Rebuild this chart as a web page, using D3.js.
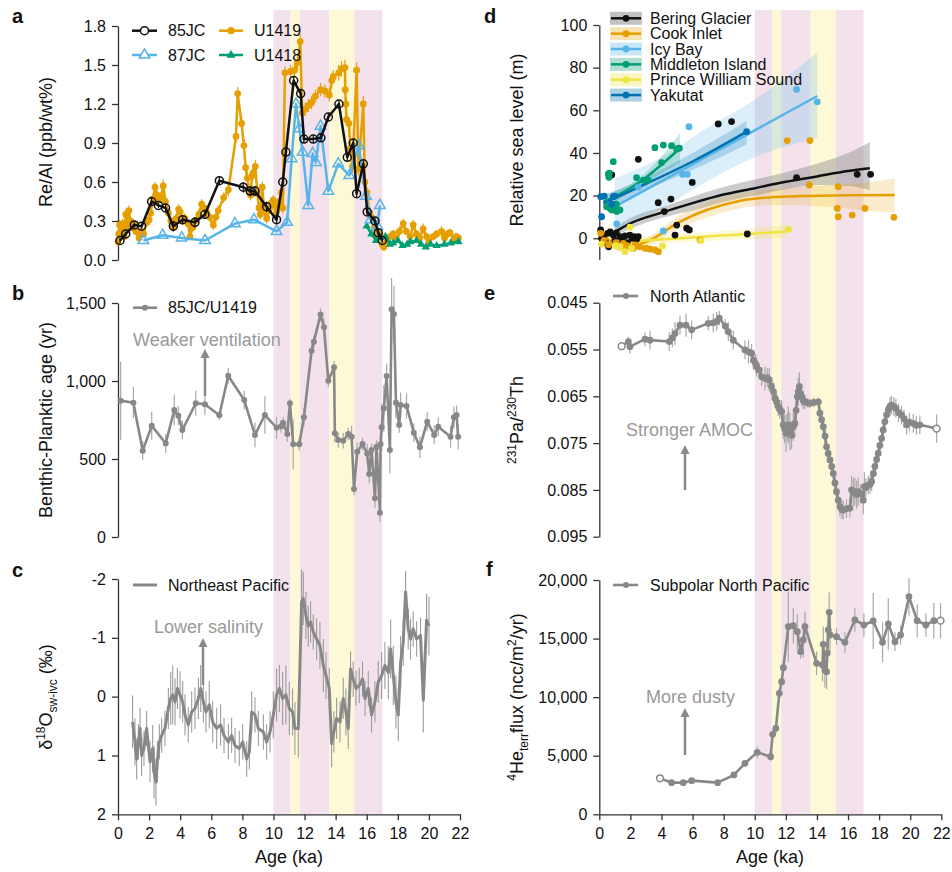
<!DOCTYPE html>
<html><head><meta charset="utf-8">
<script src="https://cdn.jsdelivr.net/npm/d3@7"></script>
<style>body{margin:0;background:#fff}text{font-family:"Liberation Sans",Arial,Helvetica,sans-serif}</style>
</head><body><script>
// ---------------- DATA ----------------
const bandEdges=[[10,11.1,"p"],[11.1,11.7,"y"],[11.7,13.6,"p"],[13.6,15.2,"y"],[15.2,17,"p"]];
const xTicks=[0,2,4,6,8,10,12,14,16,18,20,22];
const ticksA=[0,0.3,0.6,0.9,1.2,1.5,1.8];
const ticksB=[0,500,1000,1500];
const ticksC=[-2,-1,0,1,2];
const ticksD=[0,20,40,60,80,100];
const ticksE=[0.045,0.055,0.065,0.075,0.085,0.095];
const ticksF=[0,5000,10000,15000,20000];

// panel a: [age, Re/Al, err]
const jc85=[[0.13,0.15,0.02],[0.5,0.2,0.02],[1.05,0.27,0.02],[1.52,0.26,0.02],[2.16,0.45,0.03],[2.6,0.42,0.02],[3.06,0.40,0.03],[3.56,0.26,0.04],[4.16,0.31,0.03],[4.95,0.29,0.04],[5.59,0.35,0.03],[6.52,0.61,0.03],[8.06,0.56,0.04],[8.5,0.53,0.04],[8.81,0.53,0.04],[9.56,0.41,0.04],[10.2,0.31,0.03],[10.6,0.60,0.03],[10.8,0.83,0.03],[11.3,1.38,0.03],[11.75,1.28,0.03],[11.96,0.93,0.03],[12.56,0.93,0.03],[13.05,0.94,0.03],[13.53,1.10,0.03],[14.21,1.20,0.03],[14.75,0.79,0.03],[15.13,0.90,0.03],[15.35,0.51,0.03],[15.78,0.74,0.03],[16.03,0.37,0.03],[16.53,0.30,0.03],[16.74,0.21,0.03],[17.0,0.15,0.02]];
const jc87=[[1.63,0.15],[2.87,0.19],[4.1,0.17],[5.6,0.15],[7.52,0.28],[8.75,0.31],[10.2,0.22],[10.88,0.29],[11.17,0.78],[11.45,1.20],[11.66,1.01],[11.88,0.83],[12.24,0.42],[12.52,0.82],[12.73,0.75],[13.03,1.03],[13.53,0.53],[14.17,0.74],[14.88,0.65],[15.48,0.88],[15.95,0.49],[16.25,0.31],[16.68,0.26],[16.85,0.42]];
const u1419=[[0.0,0.14,0.03],[0.05,0.2,0.03],[0.1,0.27,0.04],[0.2,0.22,0.03],[0.3,0.28,0.04],[0.4,0.18,0.03],[0.5,0.35,0.04],[0.6,0.25,0.03],[0.7,0.38,0.04],[0.8,0.3,0.03],[0.9,0.25,0.03],[1.0,0.28,0.03],[1.15,0.22,0.03],[1.35,0.17,0.03],[1.5,0.22,0.03],[1.65,0.2,0.03],[1.85,0.29,0.03],[2.0,0.31,0.04],[2.1,0.36,0.04],[2.25,0.47,0.04],[2.38,0.56,0.04],[2.5,0.5,0.04],[2.6,0.46,0.04],[2.75,0.48,0.04],[2.91,0.57,0.05],[3.05,0.45,0.04],[3.24,0.36,0.04],[3.4,0.3,0.03],[3.56,0.25,0.03],[3.75,0.32,0.04],[3.9,0.39,0.04],[4.0,0.37,0.04],[4.15,0.3,0.03],[4.3,0.32,0.04],[4.5,0.28,0.03],[4.63,0.18,0.03],[4.8,0.25,0.03],[4.95,0.3,0.03],[5.2,0.35,0.04],[5.38,0.43,0.04],[5.55,0.4,0.04],[5.7,0.37,0.04],[5.9,0.33,0.04],[6.13,0.27,0.04],[6.3,0.33,0.04],[6.45,0.38,0.04],[6.8,0.48,0.04],[7.1,0.54,0.05],[7.59,0.95,0.05],[7.7,1.28,0.05],[7.95,1.05,0.05],[8.1,0.88,0.05],[8.21,0.71,0.05],[8.32,0.63,0.05],[8.45,0.52,0.04],[8.53,0.5,0.04],[8.62,0.65,0.05],[8.7,0.67,0.05],[8.83,0.72,0.05],[8.96,0.52,0.04],[9.07,0.4,0.04],[9.15,0.35,0.04],[9.28,0.56,0.04],[9.4,0.38,0.04],[9.56,0.32,0.04],[9.7,0.38,0.04],[9.77,0.40,0.04],[9.88,0.44,0.04],[9.98,0.46,0.04],[10.09,0.42,0.04],[10.2,0.37,0.04],[10.3,0.41,0.04],[10.4,0.45,0.04],[10.51,0.52,0.04],[10.6,0.4,0.04],[10.74,1.44,0.05],[11.1,1.45,0.05],[11.35,1.46,0.05],[11.55,1.52,0.06],[11.72,1.68,0.06],[11.85,1.13,0.05],[12.05,1.16,0.05],[12.25,1.19,0.05],[12.45,1.21,0.05],[12.7,1.26,0.05],[13.03,1.31,0.05],[13.3,1.30,0.05],[13.59,1.27,0.05],[13.75,1.38,0.06],[13.85,1.41,0.05],[14.2,1.44,0.06],[14.38,1.47,0.06],[14.6,1.48,0.06],[14.62,1.31,0.05],[14.66,1.2,0.05],[14.7,1.08,0.05],[14.85,1.05,0.05],[14.95,0.86,0.05],[15.09,0.72,0.05],[15.35,1.46,0.06],[15.46,0.70,0.05],[15.78,1.2,0.06],[15.88,0.60,0.05],[16.0,0.52,0.04],[16.2,0.36,0.04],[16.3,0.33,0.04],[16.5,0.25,0.04],[16.7,0.18,0.03],[16.85,0.2,0.03],[17.0,0.12,0.03],[17.1,0.1,0.03],[17.3,0.15,0.03],[17.5,0.18,0.03],[17.7,0.2,0.03],[17.9,0.16,0.03],[18.1,0.22,0.04],[18.35,0.28,0.04],[18.55,0.22,0.03],[18.8,0.18,0.03],[18.99,0.27,0.04],[19.2,0.2,0.03],[19.4,0.17,0.03],[19.63,0.24,0.04],[19.85,0.18,0.03],[20.0,0.14,0.03],[20.28,0.18,0.03],[20.5,0.2,0.03],[20.81,0.22,0.04],[21.0,0.17,0.03],[21.2,0.2,0.03],[21.35,0.21,0.03],[21.6,0.15,0.03],[21.75,0.18,0.03],[21.9,0.17,0.03]];
const u1418=[[16.0,0.26],[16.3,0.2],[16.6,0.15],[16.9,0.17],[17.2,0.18],[17.5,0.12],[17.7,0.13],[18.0,0.15],[18.3,0.11],[18.6,0.12],[18.8,0.14],[19.2,0.15],[19.5,0.12],[19.8,0.10],[20.1,0.12],[20.5,0.11],[21.0,0.12],[21.4,0.13],[21.9,0.14]];

// panel b: [age, B-P age, err]
const bpAge=[[0.17,874,250],[0.99,861,100],[1.59,553,60],[2.17,713,90],[3.07,600,60],[3.62,814,100],[3.88,778,60],[4.14,686,60],[5.0,857,80],[5.59,851,70],[6.52,780,30],[7.09,1034,50],[8.12,878,60],[8.81,654,80],[9.45,782,120],[10.2,701,70],[10.48,710,40],[10.63,730,40],[10.89,660,50],[11.06,857,30],[11.27,594,160],[11.66,594,40],[11.96,767,60],[12.45,1194,40],[12.6,1252,40],[13.03,1427,40],[13.25,1344,60],[13.53,1002,40],[13.9,1088,40],[13.95,665,60],[14.17,622,50],[14.49,617,50],[14.81,660,40],[15.03,643,70],[15.18,308,40],[15.39,547,60],[15.73,596,40],[16.03,536,60],[16.16,404,60],[16.31,558,40],[16.53,248,60],[16.63,579,40],[16.85,156,60],[16.89,596,120],[16.96,703,150],[17.1,825,150],[17.28,1032,80],[17.49,558,150],[17.6,1460,200],[17.75,1430,180],[17.88,861,100],[18.09,718,50],[18.18,846,80],[18.56,840,80],[19.03,669,60],[19.42,575,70],[19.89,739,60],[20.34,654,60],[20.6,707,60],[21.39,643,70],[21.61,767,70],[21.78,782,60],[21.88,643,80]];

// panel c: [age, d18Osw-ivc, err]
const d18O=[[0.94,0.43,0.45],[1.09,0.77,0.4],[1.20,1.06,0.35],[1.31,0.77,0.3],[1.42,0.54,0.35],[1.52,1.0,0.35],[1.67,0.88,0.3],[1.84,0.54,0.3],[2.06,1.11,0.35],[2.23,0.88,0.4],[2.32,1.28,0.45],[2.44,1.45,0.4],[2.53,1.11,0.35],[2.66,0.77,0.3],[2.81,0.66,0.3],[3.02,0.54,0.3],[3.24,0.2,0.35],[3.39,0.03,0.45],[3.52,-0.03,0.5],[3.67,0.09,0.4],[3.82,-0.14,0.35],[3.99,-0.03,0.4],[4.16,0.09,0.35],[4.31,0.31,0.35],[4.52,0.48,0.3],[4.74,0.26,0.35],[4.95,0.2,0.35],[5.17,0.03,0.35],[5.32,-0.14,0.4],[5.49,0.09,0.35],[5.66,0.26,0.35],[5.87,0.14,0.4],[6.09,0.43,0.35],[6.35,0.54,0.35],[6.6,0.48,0.35],[6.82,0.66,0.3],[7.10,0.77,0.3],[7.31,0.66,0.3],[7.53,0.83,0.3],[7.80,0.88,0.3],[8.02,0.77,0.3],[8.28,1.06,0.3],[8.45,0.94,0.3],[8.60,0.26,0.35],[8.81,0.31,0.3],[9.03,0.54,0.3],[9.35,0.6,0.3],[9.56,0.77,0.3],[9.78,0.6,0.35],[9.99,0.31,0.4],[10.20,-0.03,0.45],[10.38,-0.14,0.4],[10.59,0.03,0.45],[10.80,-0.03,0.5],[11.02,0.2,0.45],[11.23,0.26,0.4],[11.38,0.54,0.45],[11.60,0.54,0.5],[11.81,-1.61,0.55],[11.92,-1.67,0.45],[12.09,-1.38,0.4],[12.24,-1.2,0.35],[12.39,-1.27,0.35],[12.56,-1.1,0.3],[12.78,-0.98,0.35],[12.99,-0.87,0.4],[13.21,-0.53,0.45],[13.38,-0.36,0.4],[13.59,-0.14,0.35],[13.74,0.8,0.4],[13.89,0.6,0.35],[14.06,0.37,0.35],[14.28,0.43,0.35],[14.49,0.03,0.35],[14.66,0.26,0.4],[14.81,0.54,0.35],[14.96,-0.47,0.3],[15.13,-0.3,0.3],[15.31,-0.14,0.3],[15.52,-0.19,0.3],[15.73,-0.3,0.3],[15.89,0.03,0.3],[16.10,-0.14,0.3],[16.31,0.31,0.3],[16.53,0.09,0.35],[16.74,-0.25,0.35],[16.96,-0.36,0.4],[17.17,-0.53,0.4],[17.39,-0.41,0.45],[17.54,-0.81,0.5],[17.71,-0.36,0.5],[17.88,0.09,0.45],[18.03,0.31,0.45],[18.18,-0.58,0.45],[18.35,-0.92,0.4],[18.50,-1.78,0.35],[18.67,-1.15,0.35],[18.82,-0.98,0.35],[18.99,-1.15,0.3],[19.21,-0.98,0.3],[19.46,-1.04,0.3],[19.64,0.06,0.55],[19.85,-1.3,0.45],[20.0,-1.2,0.5]];

// panel d: sites, points [age, RSL] and fits [age, fit, lo, hi]
const siteNames=["Bering Glacier","Cook Inlet","Icy Bay","Middleton Island","Prince William Sound","Yakutat"];
const berPts=[[0.09,3.9],[0.15,0],[0.26,0.8],[0.4,-2],[0.54,2.3],[0.6,-4],[0.7,3],[0.8,29.7],[0.9,1.5],[1.0,-1],[1.1,2.5],[1.33,0.8],[1.5,-1.5],[1.65,1.1],[1.8,-2],[1.97,1.5],[2.1,0],[2.25,0.8],[2.4,-0.5],[2.51,0.8],[2.51,37],[3.79,16.7],[4.18,12.5],[4.61,18.4],[4.87,1.5],[4.98,6.2],[5.62,4.7],[5.79,3.9],[5.98,26.2],[7.65,53.6],[8.51,54.7],[9.52,2.0],[12.69,28.4],[16.59,30],[17.45,30]];
const cookPts=[[0.09,2.3],[0.3,-1],[0.6,-3],[1.07,-2],[1.3,-4],[1.55,-2.4],[1.8,-3.5],[2.19,-4.7],[2.3,-3.1],[2.6,-4],[2.94,-4.7],[3.05,-4.7],[3.3,-5.1],[3.6,-5.5],[3.8,-6.3],[6.48,-0.8],[12.09,45.8],[13.51,25],[13.55,45.8],[15.31,14],[15.37,24.2],[15.37,10.1],[16.27,10.9],[17.09,14],[18.95,9.8]];
const icyPts=[[1.12,6.7],[2.5,24],[4.12,3.4],[5.36,30],[5.66,30],[5.77,52.3],[12.69,69.8],[14.02,64]];
const midPts=[[0.48,14.8],[0.58,30.1],[0.62,28.6],[0.65,30.5],[0.58,14.8],[0.69,14],[0.8,13.3],[0.9,35.9],[1.0,13.3],[1.1,16],[1.12,12.5],[1.33,13.3],[2.4,28.4],[2.83,27.3],[3.15,27.3],[3.58,42.5],[4.01,35.5],[4.12,43.7],[4.65,43.4],[4.98,41.9],[5.15,42.2]];
const pwsPts=[[0.13,-2.7],[1.07,-3.6],[1.33,-3.9],[1.65,-6.3],[1.97,5.2],[2.08,-4.7],[4.07,-3.6],[6.54,-1.1],[12.16,4.2]];
const yakPts=[[0.09,19.5],[0.15,10.1],[0.32,19.8],[0.8,16],[0.9,19.5],[1.0,19.8],[9.48,50]];
const berFit=[[1.0,3,1,5],[2,7,4.5,9.5],[4,12,9.5,14.5],[6,16.5,13,19.5],[8,20.5,17,24],[10,23.5,20,27.5],[12,26.5,23,31],[14,29,25,35],[16,31.5,24.5,40],[17.4,32.8,22.5,45]];
const cookFit=[[0.1,3,0,6],[0.8,-2,-4,0],[1.5,-4.5,-6.5,-2.5],[2.5,-3,-5,-1],[3.5,0,-2,2],[5,7,4,10],[7,13.5,10,17],[9,17.5,14,21],[11,19.2,15.5,23],[13,19.8,15.5,24],[15,20,14.5,25],[17,20.2,13,26],[19,20.3,12,28]];
const icyFit=[[1.0,14.8,4,28],[4,26.8,14,38],[7,38.7,27,52],[10,50.6,38,65],[14.02,66.7,47,87]];
const midFit=[[0.26,17.2,14,20.5],[1,19.5,17,22],[2,23.5,21.5,25.5],[3,28.5,26,31],[4,34.5,30.5,38.5],[5.19,42.2,35.3,49.2]];
const pwsFit=[[0.05,-2.4,-5,0.5],[3,-1,-3,1],[6,0.4,-1.5,2.3],[9,1.8,-0.5,4],[12.05,3.1,0,6.5]];
const yakFit=[[0.26,16.4,13,20],[3,25.5,22.5,28.5],[6,36,32,40],[9.48,50,44,55]];

// panel e: [age, Pa/Th, err]
const paTh=[[1.44,0.0543,0.0005],[1.87,0.0533,0.001],[1.97,0.0544,0.0015],[2.94,0.0528,0.0015],[3.26,0.0530,0.002],[4.5,0.0533,0.002],[4.7,0.0525,0.002],[4.87,0.0516,0.0025],[5.19,0.0498,0.002],[5.58,0.0498,0.0025],[5.94,0.0508,0.002],[7.01,0.0494,0.0015],[7.33,0.0493,0.002],[7.55,0.0490,0.002],[7.72,0.0483,0.0015],[8.1,0.0500,0.0015],[8.3,0.0512,0.002],[8.62,0.0530,0.002],[9.37,0.0551,0.002],[9.6,0.0555,0.0025],[9.8,0.0558,0.002],[9.91,0.0573,0.002],[10.05,0.0580,0.002],[10.12,0.0587,0.002],[10.29,0.0594,0.0015],[10.44,0.0608,0.002],[10.66,0.0612,0.0025],[10.8,0.0610,0.002],[10.93,0.0615,0.0025],[11.08,0.0629,0.002],[11.2,0.0640,0.002],[11.30,0.0654,0.002],[11.4,0.0662,0.002],[11.51,0.0672,0.002],[11.62,0.0678,0.002],[11.73,0.0683,0.0025],[11.83,0.0711,0.003],[11.92,0.0720,0.003],[12.01,0.0729,0.004],[12.1,0.0715,0.003],[12.16,0.0711,0.004],[12.26,0.0725,0.004],[12.37,0.0733,0.003],[12.48,0.0715,0.003],[12.58,0.0708,0.003],[12.66,0.0680,0.003],[12.74,0.0651,0.002],[12.8,0.0640,0.003],[12.87,0.0629,0.003],[12.95,0.0645,0.002],[13.02,0.0651,0.002],[13.12,0.0658,0.002],[13.23,0.0662,0.0015],[13.4,0.0664,0.001],[13.55,0.0665,0.001],[13.8,0.0663,0.001],[14.09,0.0662,0.001],[14.19,0.0686,0.0015],[14.3,0.0700,0.002],[14.41,0.0715,0.002],[14.52,0.0735,0.002],[14.62,0.0758,0.002],[14.72,0.0772,0.002],[14.84,0.0786,0.002],[14.95,0.0800,0.002],[15.05,0.0815,0.002],[15.16,0.0835,0.002],[15.26,0.0854,0.002],[15.37,0.0872,0.002],[15.48,0.0886,0.002],[15.6,0.0892,0.002],[15.69,0.0893,0.002],[15.9,0.0890,0.002],[16.12,0.0889,0.002],[16.23,0.0850,0.003],[16.34,0.0855,0.003],[16.44,0.0854,0.003],[16.55,0.0860,0.003],[16.66,0.0854,0.003],[16.8,0.0858,0.002],[16.98,0.0872,0.003],[17.05,0.0843,0.003],[17.15,0.0845,0.002],[17.3,0.0840,0.002],[17.42,0.0838,0.002],[17.52,0.0832,0.002],[17.63,0.0815,0.002],[17.73,0.0800,0.002],[17.84,0.0785,0.002],[17.94,0.0772,0.002],[18.05,0.0755,0.002],[18.16,0.0740,0.002],[18.26,0.0722,0.002],[18.37,0.0704,0.002],[18.48,0.0690,0.002],[18.59,0.0679,0.0015],[18.7,0.0672,0.002],[18.8,0.0669,0.002],[18.95,0.0672,0.002],[19.08,0.0676,0.002],[19.25,0.0685,0.002],[19.44,0.0690,0.002],[19.6,0.0698,0.002],[19.77,0.0711,0.002],[19.95,0.0705,0.002],[20.2,0.0708,0.002],[20.4,0.0712,0.002],[20.62,0.0711,0.002],[21.7,0.0719,0.003]];

// panel f: [age, 4He flux, err]
const heFlux=[[3.90,3073,200],[4.65,2703,150],[5.40,2703,150],[5.94,2873,150],[7.61,2703,150],[8.66,3357,250],[9.37,4353,250],[10.16,5292,500],[11.02,4922,400],[11.15,6828,400],[11.36,7340,400],[11.58,10327,400],[11.73,11323,400],[11.84,12518,500],[12.16,16017,3000],[12.48,16103,1500],[12.74,15591,1500],[12.95,13884,600],[13.12,14880,1500],[13.23,16017,1300],[13.98,12888,1000],[14.36,12746,1400],[14.41,14510,1500],[14.51,12319,1500],[14.62,12177,1500],[14.66,13741,1200],[14.73,15733,1500],[14.79,17241,1700],[14.84,15306,1500],[15.26,15164,700],[15.8,14680,900],[16.44,16586,1000],[17.02,16160,1000],[17.62,16501,2400],[18.22,14680,1700],[18.59,16245,2200],[19.02,14737,800],[19.38,15306,800],[19.92,18578,1600],[20.45,16530,1400],[21.01,16160,1000],[21.52,16530,1500],[21.95,16530,1500]];

// ---------------- DRAW ----------------
const FONT='"Liberation Sans", Arial, Helvetica, sans-serif';
const C={black:"#111111",orange:"#E69F00",sky:"#56B4E9",green:"#009E73",yellow:"#F0E442",blue:"#0072B2",grey:"#888888",egrey:"#a8a8a8",pink:"#f3e2ec",pale:"#fdf8d6"};
const svg=d3.select("body").append("svg").attr("width",952).attr("height",872);

const xL=d3.scaleLinear().domain([0,22]).range([118,460]);
const xR=d3.scaleLinear().domain([0,22]).range([599.3,941.3]);
const yA=d3.scaleLinear().domain([0,1.8]).range([260,26]);
const yB=d3.scaleLinear().domain([0,1500]).range([537,303]);
const yC=d3.scaleLinear().domain([-2,2]).range([579,814.3]);
const yD=d3.scaleLinear().domain([-10,100]).range([259.6,25]);
const yE=d3.scaleLinear().domain([0.045,0.095]).range([302.7,536.7]);
const yF=d3.scaleLinear().domain([0,20000]).range([814.3,580]);

// climate-event bands
[xL,xR].forEach(x=>{
  svg.append("g").selectAll("rect").data(bandEdges).join("rect")
    .attr("x",d=>x(d[0])).attr("width",d=>x(d[1])-x(d[0]))
    .attr("y",10).attr("height",804).attr("fill",d=>d[2]==="p"?C.pink:C.pale);
});

function yAxis(x0,y,ticks,fmt){
  const g=svg.append("g").attr("transform",`translate(${x0},0)`)
    .call(d3.axisLeft(y).tickValues(ticks).tickFormat(fmt).tickSize(6).tickSizeOuter(0).tickPadding(6));
  g.attr("font-family",FONT).attr("font-size",16);
  g.select(".domain").attr("stroke","#333").attr("stroke-width",1.3);
  g.selectAll(".tick line").attr("stroke","#333").attr("stroke-width",1.3);
  g.selectAll(".tick text").attr("fill","#111");
}
function xAxis(x,y0){
  const g=svg.append("g").attr("transform",`translate(0,${y0})`)
    .call(d3.axisBottom(x).tickValues(xTicks).tickFormat(d3.format("d")).tickSize(6).tickSizeOuter(0).tickPadding(7));
  g.attr("font-family",FONT).attr("font-size",16);
  g.select(".domain").attr("stroke","#333").attr("stroke-width",1.3);
  g.selectAll(".tick line").attr("stroke","#333").attr("stroke-width",1.3);
  g.selectAll(".tick text").attr("fill","#111");
}
function errBars(data,x,y,color,w,ei){
  svg.append("g").selectAll("line").data(data).join("line")
    .attr("x1",d=>x(d[0])).attr("x2",d=>x(d[0]))
    .attr("y1",d=>y(d[1]-d[ei])).attr("y2",d=>y(d[1]+d[ei]))
    .attr("stroke",color).attr("stroke-width",w);
}
function linePath(data,x,y,color,w){
  svg.append("path").datum(data).attr("fill","none").attr("stroke",color).attr("stroke-width",w)
    .attr("stroke-linejoin","round").attr("d",d3.line().x(d=>x(d[0])).y(d=>y(d[1])));
}
function dots(data,x,y,r,fill,stroke,sw){
  svg.append("g").selectAll("circle").data(data).join("circle")
    .attr("cx",d=>x(d[0])).attr("cy",d=>y(d[1])).attr("r",r)
    .attr("fill",fill).attr("stroke",stroke||"none").attr("stroke-width",sw||0);
}
function tris(data,x,y,size,fill,stroke,sw){
  const s=d3.symbol().type(d3.symbolTriangle).size(size);
  svg.append("g").selectAll("path").data(data).join("path")
    .attr("transform",d=>`translate(${x(d[0])},${y(d[1])})`).attr("d",s)
    .attr("fill",fill).attr("stroke",stroke||"none").attr("stroke-width",sw||0);
}
function txt(x,y,s,size,opts){
  const t=svg.append("text").attr("x",x).attr("y",y).attr("font-size",size).attr("fill",(opts&&opts.fill)||"#111").text(s);
  if(opts&&opts.bold) t.attr("font-weight","bold");
  if(opts&&opts.dy) t.attr("dy",opts.dy);
  if(opts&&opts.anchor) t.attr("text-anchor",opts.anchor);
  return t;
}
function arrow(x,y1,y2){
  svg.append("line").attr("x1",x).attr("x2",x).attr("y1",y1).attr("y2",y2+7).attr("stroke","#888").attr("stroke-width",2.5);
  svg.append("path").attr("d",`M${x-4.5},${y2+9}L${x},${y2}L${x+4.5},${y2+9}Z`).attr("fill","#888");
}
function yLabel(x,y,parts){
  const t=svg.append("text").attr("transform",`translate(${x},${y}) rotate(-90)`).attr("text-anchor","middle").attr("font-size",18).attr("fill","#111");
  parts.forEach(p=>{const s=t.append("tspan").text(p[0]); if(p[1]) s.attr("font-size",p[1]); if(p[2]) s.attr("dy",p[2]);});
}

// ---- panel a ----
yAxis(118,yA,ticksA,d3.format(".1f"));
linePath(u1419,xL,yA,C.orange,2.5);
errBars(u1419,xL,yA,C.orange,1.2,2);
dots(u1419,xL,yA,3.4,C.orange);
linePath(u1418,xL,yA,C.green,2.5);
tris(u1418,xL,yA,30,C.green);
linePath(jc87,xL,yA,C.sky,2.5);
tris(jc87,xL,yA,48,"none",C.sky,1.5);
linePath(jc85,xL,yA,C.black,2.5);
errBars(jc85,xL,yA,C.black,1.2,2);
dots(jc85,xL,yA,4,"none",C.black,1.5);
// legend a
[[132,157,30.7,C.black,"85JC","oc"],[132,157,55,C.sky,"87JC","ot"],[219,243,30.7,C.orange,"U1419","fc"],[219,243,55,C.green,"U1418","ft"]].forEach(l=>{
  svg.append("line").attr("x1",l[0]).attr("x2",l[1]).attr("y1",l[2]).attr("y2",l[2]).attr("stroke",l[3]).attr("stroke-width",2.5);
  const cx=(l[0]+l[1])/2;
  if(l[5]==="oc") svg.append("circle").attr("cx",cx).attr("cy",l[2]).attr("r",4).attr("fill","#fff").attr("stroke",l[3]).attr("stroke-width",1.5);
  if(l[5]==="fc") svg.append("circle").attr("cx",cx).attr("cy",l[2]).attr("r",3.6).attr("fill",l[3]);
  if(l[5]==="ot") svg.append("path").attr("transform",`translate(${cx},${l[2]})`).attr("d",d3.symbol().type(d3.symbolTriangle).size(48)).attr("fill","#fff").attr("stroke",l[3]).attr("stroke-width",1.5);
  if(l[5]==="ft") svg.append("path").attr("transform",`translate(${cx},${l[2]})`).attr("d",d3.symbol().type(d3.symbolTriangle).size(36)).attr("fill",l[3]);
  txt(l[1]+11,l[2],l[4],16,{dy:"0.36em"});
});

// ---- panel b ----
yAxis(118,yB,ticksB,d3.format(","));
errBars(bpAge,xL,yB,C.egrey,1.2,2);
linePath(bpAge,xL,yB,C.grey,2.6);
dots(bpAge,xL,yB,3,C.grey);
svg.append("line").attr("x1",133).attr("x2",157).attr("y1",307.7).attr("y2",307.7).attr("stroke",C.grey).attr("stroke-width",2.6);
svg.append("circle").attr("cx",145).attr("cy",307.7).attr("r",3).attr("fill",C.grey);
txt(168,307.7,"85JC/U1419",16,{dy:"0.36em"});
txt(133,346,"Weaker ventilation",18,{fill:"#999"});
arrow(205,396,349);

// ---- panel c ----
yAxis(118,yC,ticksC,d=>String(d));
xAxis(xL,814.3);
errBars(d18O,xL,yC,"#9c9c9c",1.1,2);
linePath(d18O,xL,yC,C.grey,3);
svg.append("line").attr("x1",133).attr("x2",157).attr("y1",585).attr("y2",585).attr("stroke",C.grey).attr("stroke-width",3);
txt(168,585,"Northeast Pacific",16,{dy:"0.36em"});
txt(154,633,"Lower salinity",18,{fill:"#999"});
arrow(203,685,638);

// ---- panel d ----
yAxis(599.3,yD,ticksD,d3.format("d"));
const sites=[
  {fit:berFit,pts:berPts,col:C.black,band:"#8f8f8f",bo:0.45},
  {fit:cookFit,pts:cookPts,col:C.orange,band:C.orange,bo:0.2},
  {fit:icyFit,pts:icyPts,col:C.sky,band:C.sky,bo:0.22},
  {fit:midFit,pts:midPts,col:C.green,band:C.green,bo:0.22},
  {fit:pwsFit,pts:pwsPts,col:C.yellow,band:C.yellow,bo:0.22},
  {fit:yakFit,pts:yakPts,col:C.blue,band:C.blue,bo:0.22}
];
const areaD=d3.area().x(d=>xR(d[0])).y0(d=>yD(d[2])).y1(d=>yD(d[3])).curve(d3.curveMonotoneX);
sites.forEach(s=>{
  svg.append("path").datum(s.fit).attr("d",areaD).attr("fill",s.band).attr("fill-opacity",s.bo);
});
sites.forEach(s=>{
  svg.append("path").datum(s.fit).attr("fill","none").attr("stroke",s.col).attr("stroke-width",2.5)
    .attr("d",d3.line().x(d=>xR(d[0])).y(d=>yD(d[1])).curve(d3.curveMonotoneX));
});
sites.forEach(s=>dots(s.pts,xR,yD,3.4,s.col));
// legend d
siteNames.forEach((n,i)=>{
  const yy=18.3+i*15.35, s=sites[i];
  svg.append("rect").attr("x",610).attr("y",yy-6.5).attr("width",32).attr("height",13).attr("fill",s.band).attr("fill-opacity",s.bo+0.1);
  svg.append("line").attr("x1",611).attr("x2",641).attr("y1",yy).attr("y2",yy).attr("stroke",s.col).attr("stroke-width",2.5);
  svg.append("circle").attr("cx",626).attr("cy",yy).attr("r",3.4).attr("fill",s.col);
  txt(650,yy,n,16,{dy:"0.36em"});
});

// ---- panel e ----
yAxis(599.3,yE,ticksE,d3.format(".3f"));
errBars(paTh,xR,yE,C.egrey,1.2,2);
linePath(paTh,xR,yE,C.grey,2.6);
dots(paTh.slice(1,-1),xR,yE,3.4,C.grey);
dots([paTh[0],paTh[paTh.length-1]],xR,yE,3.4,"#fff",C.grey,1.5);
svg.append("line").attr("x1",613).attr("x2",638).attr("y1",296).attr("y2",296).attr("stroke",C.grey).attr("stroke-width",2.6);
svg.append("circle").attr("cx",626).attr("cy",296).attr("r",3).attr("fill",C.grey);
txt(650,296,"North Atlantic",16,{dy:"0.36em"});
txt(626,436,"Stronger AMOC",18,{fill:"#999"});
arrow(685,490,445);

// ---- panel f ----
yAxis(599.3,yF,ticksF,d3.format(","));
xAxis(xR,814.3);
errBars(heFlux,xR,yF,C.egrey,1.2,2);
linePath(heFlux,xR,yF,C.grey,2.6);
dots(heFlux.slice(1,-1),xR,yF,3.4,C.grey);
dots([heFlux[0],heFlux[heFlux.length-1]],xR,yF,3.4,"#fff",C.grey,1.5);
svg.append("line").attr("x1",613).attr("x2",638).attr("y1",585).attr("y2",585).attr("stroke",C.grey).attr("stroke-width",2.6);
svg.append("circle").attr("cx",626).attr("cy",585).attr("r",3).attr("fill",C.grey);
txt(650,585,"Subpolar North Pacific",16,{dy:"0.36em"});
txt(646,703,"More dusty",18,{fill:"#999"});
arrow(685,755,708);

// ---- labels ----
txt(289,863,"Age (ka)",18,{anchor:"middle"});
txt(770,863,"Age (ka)",18,{anchor:"middle"});
[["a",12,23],["b",12,300],["c",12,577],["d",484,23],["e",484,300],["f",486,576]].forEach(l=>txt(l[1],l[2],l[0],20,{bold:true}));
yLabel(52,142,[["Re/Al (ppb/wt%)"]]);
yLabel(52,420,[["Benthic-Planktic age (yr)"]]);
yLabel(52,697,[["δ"],["18",12,-7],["O",null,7],["sw-ivc",12,5],[" (‰)",null,-5]]);
yLabel(523,140,[["Relative sea level (m)"]]);
yLabel(523,420,[["231",12,-7],["Pa/",null,7],["230",12,-7],["Th",null,7]]);
yLabel(523,697,[["4",12,-7],["He",null,7],["terr",12,5],["flux (ncc/m",null,-5],["2",12,-7],["/yr)",null,7]]);
</script></body></html>
